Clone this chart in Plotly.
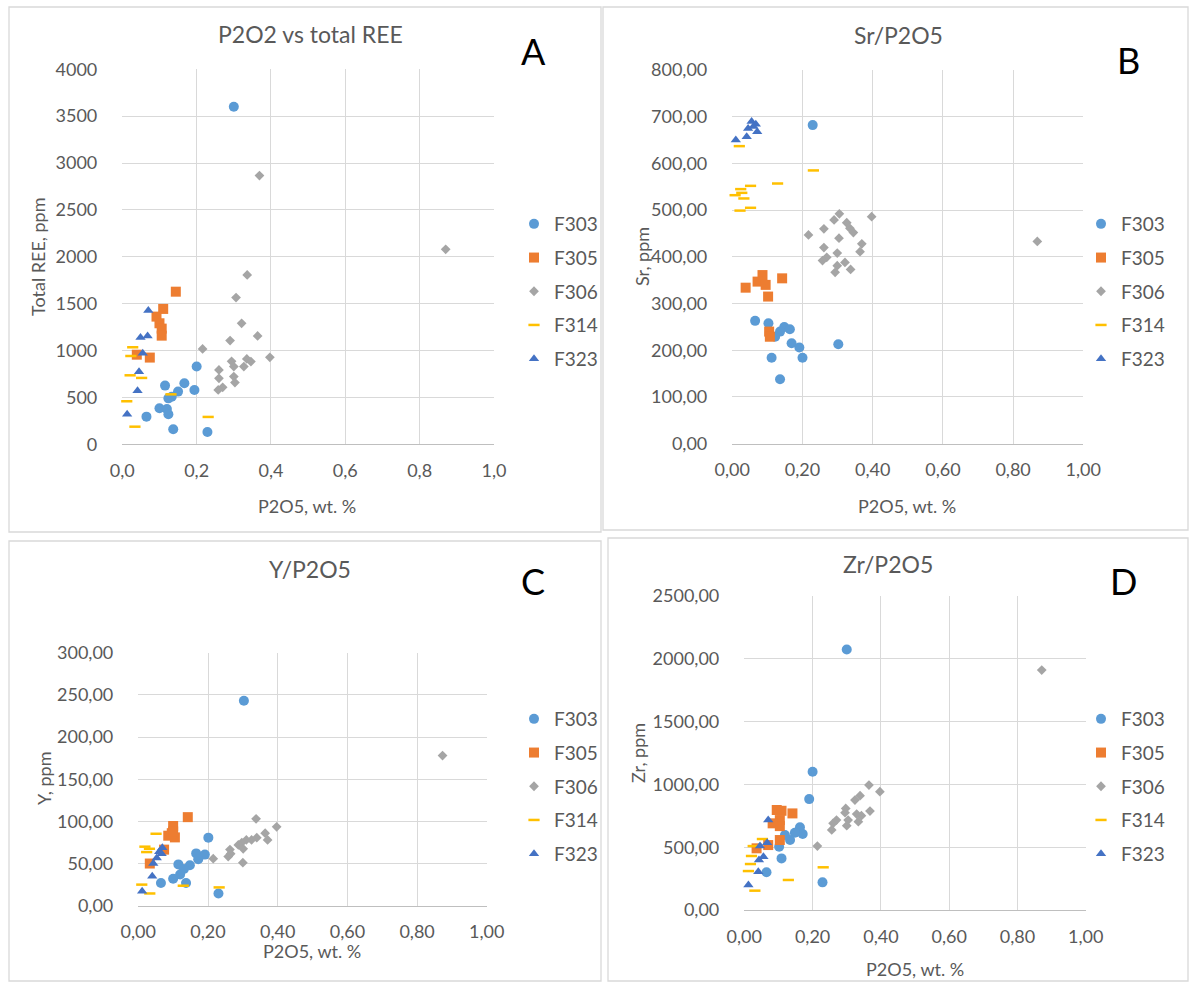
import plotly.graph_objects as go

W, H = 1189, 987

SERIES = ["F303", "F305", "F306", "F314", "F323"]

# ---------------- Panel A: P2O5 vs total REE ----------------
A_F303_x = [0.30, 0.20, 0.115, 0.167, 0.194, 0.15, 0.133, 0.124, 0.10, 0.12, 0.124, 0.065, 0.137, 0.229]
A_F303_y = [3600, 830, 626, 651, 580, 562, 508, 490, 384, 377, 320, 295, 160, 132]
A_F305_x = [0.144, 0.11, 0.092, 0.10, 0.106, 0.106, 0.039, 0.074]
A_F305_y = [1628, 1444, 1362, 1291, 1234, 1159, 956, 925]
A_F306_x = [0.87, 0.369, 0.336, 0.306, 0.321, 0.364, 0.29, 0.216, 0.294, 0.335, 0.346, 0.397, 0.30, 0.327, 0.26, 0.30, 0.26, 0.303, 0.27, 0.258]
A_F306_y = [2080, 2866, 1806, 1565, 1291, 1156, 1106, 1017, 885, 910, 882, 928, 829, 829, 793, 722, 704, 658, 608, 580]
A_F314_x = [0.028, 0.023, 0.021, 0.052, 0.012, 0.034, 0.131, 0.231]
A_F314_y = [1035, 942, 736, 708, 459, 188, 533, 292]
A_F323_x = [0.07, 0.049, 0.068, 0.055, 0.045, 0.041, 0.013]
A_F323_y = [1426, 1138, 1156, 971, 775, 572, 320]

# ---------------- Panel B: Sr/P2O5 ----------------
B_F303_x = [0.229, 0.065, 0.103, 0.148, 0.164, 0.136, 0.122, 0.169, 0.191, 0.302, 0.112, 0.20, 0.136]
B_F303_y = [682, 263, 258, 250, 245, 240, 229, 215, 206, 213, 184, 184, 138]
B_F305_x = [0.086, 0.072, 0.095, 0.142, 0.038, 0.102, 0.105, 0.107]
B_F305_y = [361, 347, 340, 354, 334, 315, 240, 229]
B_F306_x = [0.869, 0.305, 0.397, 0.29, 0.326, 0.335, 0.345, 0.217, 0.261, 0.304, 0.369, 0.261, 0.364, 0.299, 0.269, 0.257, 0.321, 0.299, 0.337, 0.293]
B_F306_y = [433, 492, 486, 479, 473, 461, 452, 447, 460, 440, 428, 420, 411, 408, 399, 392, 388, 381, 373, 367]
B_F314_x = [0.02, 0.231, 0.129, 0.052, 0.024, 0.027, 0.008, 0.033, 0.052, 0.022]
B_F314_y = [637, 585, 557, 552, 545, 537, 532, 525, 505, 499]
B_F323_x = [0.01, 0.055, 0.067, 0.045, 0.071, 0.041, 0.06]
B_F323_y = [650, 690, 684, 675, 668, 657, 679]

# ---------------- Panel C: Y/P2O5 ----------------
C_F303_x = [0.303, 0.201, 0.166, 0.191, 0.172, 0.148, 0.115, 0.131, 0.12, 0.10, 0.137, 0.065, 0.23]
C_F303_y = [243, 80.7, 62, 60.6, 55, 48, 49, 43.5, 37, 32, 27, 27, 14.5]
C_F305_x = [0.142, 0.10, 0.086, 0.105, 0.096, 0.074, 0.033, 0.10]
C_F305_y = [105, 94.5, 83, 81, 86, 66.5, 50, 88]
C_F306_x = [0.873, 0.338, 0.397, 0.364, 0.371, 0.34, 0.325, 0.31, 0.297, 0.301, 0.287, 0.263, 0.258, 0.265, 0.215, 0.30]
C_F306_y = [178, 103, 93.5, 86, 78, 80.7, 78, 78, 74.8, 67.5, 72, 66.5, 58.3, 61.6, 55.7, 51]
C_F314_x = [0.051, 0.019, 0.032, 0.024, 0.01, 0.033, 0.129, 0.232]
C_F314_y = [85.3, 70, 67.5, 63.6, 25, 14.5, 23.7, 21.7]
C_F323_x = [0.069, 0.067, 0.053, 0.043, 0.04, 0.011, 0.06]
C_F323_y = [68.8, 61.6, 56.7, 50, 35, 17, 64]

# ---------------- Panel D: Zr/P2O5 ----------------
D_F303_x = [0.30, 0.20, 0.19, 0.163, 0.171, 0.148, 0.134, 0.119, 0.102, 0.109, 0.065, 0.229]
D_F303_y = [2074, 1101, 883, 658, 605, 615, 557, 597, 504, 411, 300, 220]
D_F305_x = [0.095, 0.109, 0.141, 0.104, 0.104, 0.083, 0.104, 0.07, 0.036]
D_F305_y = [796, 790, 769, 716, 668, 690, 557, 517, 491]
D_F306_x = [0.871, 0.365, 0.397, 0.339, 0.324, 0.297, 0.295, 0.368, 0.343, 0.329, 0.334, 0.304, 0.30, 0.27, 0.26, 0.256, 0.214]
D_F306_y = [1910, 995, 942, 910, 875, 809, 775, 788, 751, 764, 703, 716, 671, 716, 690, 637, 509]
D_F314_x = [0.053, 0.026, 0.021, 0.018, 0.012, 0.031, 0.129, 0.231]
D_F314_y = [565, 509, 430, 366, 310, 154, 239, 340]
D_F323_x = [0.07, 0.067, 0.046, 0.056, 0.043, 0.041, 0.012]
D_F323_y = [716, 536, 509, 424, 398, 305, 199]

PANELS = {
    "A": [(A_F303_x, A_F303_y), (A_F305_x, A_F305_y), (A_F306_x, A_F306_y), (A_F314_x, A_F314_y), (A_F323_x, A_F323_y)],
    "B": [(B_F303_x, B_F303_y), (B_F305_x, B_F305_y), (B_F306_x, B_F306_y), (B_F314_x, B_F314_y), (B_F323_x, B_F323_y)],
    "C": [(C_F303_x, C_F303_y), (C_F305_x, C_F305_y), (C_F306_x, C_F306_y), (C_F314_x, C_F314_y), (C_F323_x, C_F323_y)],
    "D": [(D_F303_x, D_F303_y), (D_F305_x, D_F305_y), (D_F306_x, D_F306_y), (D_F314_x, D_F314_y), (D_F323_x, D_F323_y)],
}

STYLE = {
    "F303": dict(symbol="circle", size=10, color="#5B9BD5"),
    "F305": dict(symbol="square", size=10, color="#ED7D31"),
    "F306": dict(symbol="diamond", size=7.5, color="#A5A5A5"),
    "F314": dict(symbol="line-ew", size=8, color="#FFC000"),
    "F323": dict(symbol="triangle-up", size=9, color="#4472C4"),
}

FONT = "Lato"
GREY = "#595959"

def px(x):
    return x / W

def py(y):
    return 1 - y / H

# panel geometry in pixels: plot area (left, right, top, bottom)
GEOM = {
    "A": dict(l=122.3, r=494.0, t=69.3, b=444.3, ymax=4000, dy=500, yfmt="d", xfmt=".1f",
              box=(9, 7, 601, 532), title="P2O2 vs total REE", tpos=(310, 34),
              letter=(533, 51), ytitle="Total REE, ppm", ytpos=(38, 257),
              xtpos=(307, 506), leg=(514, 205)),
    "B": dict(l=732.3, r=1083.3, t=70.0, b=443.7, ymax=800, dy=100, yfmt=".2f", xfmt=".2f",
              box=(603, 7, 1188, 530), title="Sr/P2O5", tpos=(898, 35),
              letter=(1128, 60), ytitle="Sr, ppm", ytpos=(642, 257),
              xtpos=(907, 506), leg=(1081, 205)),
    "C": dict(l=138.3, r=486.8, t=652.7, b=905.7, ymax=300, dy=50, yfmt=".2f", xfmt=".2f",
              box=(9, 541, 601, 981), title="Y/P2O5", tpos=(310, 569),
              letter=(533, 581), ytitle="Y, ppm", ytpos=(44, 779),
              xtpos=(312, 951), leg=(514, 700)),
    "D": dict(l=744.3, r=1085.8, t=596.0, b=910.0, ymax=2500, dy=500, yfmt=".2f", xfmt=".2f",
              box=(608, 538, 1188, 981), title="Zr/P2O5", tpos=(888, 564),
              letter=(1123, 581), ytitle="Zr, ppm", ytpos=(638, 753),
              xtpos=(915, 969), leg=(1081, 700)),
}

fig = go.Figure()
layout = dict(
    width=W, height=H,
    margin=dict(l=0, r=0, t=0, b=0, autoexpand=False),
    paper_bgcolor="white", plot_bgcolor="white",
    separators=", ",
    font=dict(family=FONT, color=GREY, size=18),
    shapes=[], annotations=[],
)

for i, key in enumerate(["A", "B", "C", "D"]):
    g = GEOM[key]
    sfx = "" if i == 0 else str(i + 1)
    xa, ya = "x" + sfx, "y" + sfx
    leg = "legend" + sfx
    for name, (xs, ys) in zip(SERIES, PANELS[key]):
        st = STYLE[name]
        if st["symbol"] == "line-ew":
            marker = dict(symbol="line-ew", size=st["size"], color=st["color"],
                          line=dict(color=st["color"], width=2.5))
        else:
            marker = dict(symbol=st["symbol"], size=st["size"], color=st["color"],
                          line=dict(width=0))
        fig.add_trace(go.Scatter(x=xs, y=ys, mode="markers", name=name, marker=marker,
                                 xaxis=xa, yaxis=ya, legend=leg, legendgroup=key + name,
                                 showlegend=True, cliponaxis=False))
    layout["xaxis" + sfx] = dict(
        domain=[px(g["l"]), px(g["r"])], range=[0, 1], dtick=0.2, tick0=0,
        tickformat=g["xfmt"], showgrid=True, gridcolor="#d9d9d9", gridwidth=1,
        zeroline=False, showline=True, linecolor="#bfbfbf", linewidth=1,
        ticks="", ticklabelstandoff=10, anchor=ya, fixedrange=True, automargin=False,
        tickfont=dict(family=FONT, color=GREY, size=18),
    )
    layout["yaxis" + sfx] = dict(
        domain=[py(g["b"]), py(g["t"])], range=[0, g["ymax"]], dtick=g["dy"], tick0=0,
        tickformat=g["yfmt"], showgrid=True, gridcolor="#d9d9d9", gridwidth=1,
        zeroline=False, showline=False, ticks="", ticklabelstandoff=24, anchor=xa,
        fixedrange=True, automargin=False, tickfont=dict(family=FONT, color=GREY, size=18),
    )
    layout[leg] = dict(
        x=px(g["leg"][0]), y=py(g["leg"][1]), xanchor="left", yanchor="top",
        bgcolor="rgba(0,0,0,0)", font=dict(family=FONT, color=GREY, size=19),
        tracegroupgap=6, itemwidth=30, traceorder="grouped",
    )
    x0, y0, x1, y1 = g["box"]
    layout["shapes"].append(dict(type="rect", xref="paper", yref="paper",
                                 x0=px(x0), x1=px(x1), y0=py(y1), y1=py(y0),
                                 line=dict(color="#d9d9d9", width=1.3), layer="below"))
    layout["annotations"] += [
        dict(text=g["title"], x=px(g["tpos"][0]), y=py(g["tpos"][1]), xref="paper", yref="paper",
             showarrow=False, xanchor="center", yanchor="middle",
             font=dict(family=FONT, color=GREY, size=23)),
        dict(text=key, x=px(g["letter"][0]), y=py(g["letter"][1]), xref="paper", yref="paper",
             showarrow=False, xanchor="center", yanchor="middle",
             font=dict(family=FONT, color="black", size=36)),
        dict(text=g["ytitle"], x=px(g["ytpos"][0]), y=py(g["ytpos"][1]), xref="paper", yref="paper",
             showarrow=False, xanchor="center", yanchor="middle", textangle=-90,
             font=dict(family=FONT, color=GREY, size=18)),
        dict(text="P2O5, wt. %", x=px(g["xtpos"][0]), y=py(g["xtpos"][1]), xref="paper", yref="paper",
             showarrow=False, xanchor="center", yanchor="middle",
             font=dict(family=FONT, color=GREY, size=18)),
    ]

fig.update_layout(**layout)
fig.write_html("out.html")
